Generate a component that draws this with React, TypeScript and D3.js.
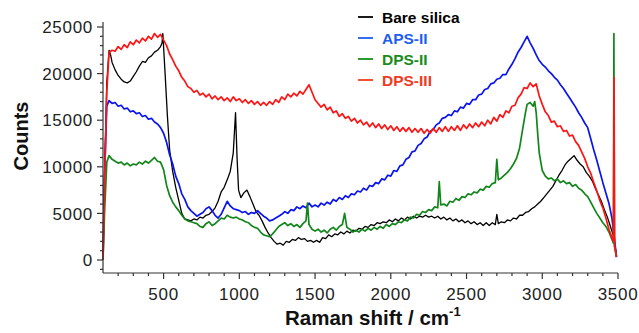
import * as d3 from "d3";

const W = 639;
const H = 333;

// Raman shift (cm-1), counts
const bareSilica: [number, number][] = [
  [100, 0], [110, 9000], [125, 19000], [140, 22500], [150, 22000], [160, 21200], [180, 20400],
  [200, 19800], [220, 19400], [240, 19100], [260, 19000], [280, 19200], [300, 19700], [320, 20200],
  [340, 20800], [360, 21300], [380, 21200], [400, 21700], [420, 21900], [440, 22300], [460, 22500],
  [480, 22900], [490, 23300], [495, 24300], [510, 20000], [525, 15500], [540, 11800], [560, 9500],
  [580, 7800], [600, 6400], [620, 5000], [640, 4400], [660, 4300], [680, 4200], [700, 4400],
  [720, 4300], [740, 4600], [760, 4500], [780, 4800], [800, 4900], [820, 5200], [840, 5600],
  [860, 6300], [880, 7300], [900, 7800], [920, 8600], [940, 9500], [960, 11500], [975, 15800],
  [985, 11000], [995, 7500], [1010, 6700], [1030, 7200], [1050, 7500], [1070, 6800], [1090, 6000],
  [1110, 5200], [1130, 4800], [1150, 4200], [1170, 3500], [1190, 2900], [1210, 2400], [1230, 2000],
  [1250, 1700], [1270, 1800], [1290, 1600], [1310, 2000], [1330, 1900], [1350, 2200], [1370, 2100],
  [1390, 2400], [1410, 2200], [1430, 2300], [1450, 2000], [1470, 2100], [1490, 1900], [1510, 2100],
  [1530, 1900], [1550, 2400], [1570, 2300], [1590, 2700], [1610, 2500], [1630, 2800], [1650, 2700],
  [1670, 3000], [1690, 2800], [1710, 3100], [1730, 2900], [1750, 3200], [1770, 3100], [1790, 3400],
  [1810, 3300], [1830, 3600], [1850, 3500], [1870, 3800], [1890, 3700], [1910, 4000], [1930, 3900],
  [1950, 4100], [1970, 4000], [1990, 4300], [2010, 4100], [2030, 4400], [2050, 4200], [2070, 4500],
  [2090, 4300], [2110, 4600], [2130, 4400], [2150, 4700], [2170, 4500], [2190, 4700], [2210, 4600],
  [2230, 4800], [2250, 4600], [2270, 4700], [2290, 4500], [2310, 4700], [2330, 4400], [2350, 4600],
  [2370, 4300], [2390, 4500], [2410, 4200], [2430, 4400], [2450, 4100], [2470, 4300], [2490, 4000],
  [2510, 4200], [2530, 3900], [2550, 4100], [2570, 3800], [2590, 4000], [2610, 3700], [2630, 4000],
  [2650, 3700], [2670, 4000], [2690, 3800], [2700, 4900], [2710, 3900], [2730, 4100], [2750, 4000],
  [2770, 4300], [2790, 4200], [2810, 4500], [2830, 4400], [2850, 4800], [2870, 4800], [2890, 5100],
  [2910, 5200], [2930, 5500], [2950, 5700], [2970, 6000], [2990, 6300], [3010, 6700], [3030, 7100],
  [3050, 7500], [3070, 7900], [3090, 8500], [3110, 9100], [3130, 9600], [3150, 10200], [3170, 10600],
  [3190, 10900], [3210, 11200], [3230, 10700], [3250, 10300], [3270, 10000], [3290, 9400],
  [3310, 9000], [3330, 8500], [3350, 7700], [3370, 7000], [3390, 6300], [3410, 5400], [3430, 4600],
  [3450, 3600], [3470, 2600], [3490, 500],
];

const apsII: [number, number][] = [
  [100, 0], [110, 9000], [125, 16500], [140, 17100], [160, 16800], [180, 16900], [200, 16500],
  [220, 16600], [240, 16200], [260, 16300], [280, 15900], [300, 16000], [320, 15700], [340, 15800],
  [360, 15400], [380, 15500], [400, 15100], [420, 15200], [440, 14800], [460, 14600], [480, 14200],
  [500, 13600], [520, 12600], [540, 11300], [560, 10300], [580, 9000], [600, 8200], [620, 7100],
  [640, 6500], [660, 5700], [680, 5300], [700, 5000], [720, 4700], [740, 4900], [760, 5100],
  [780, 5500], [800, 5700], [820, 5300], [840, 4800], [860, 4500], [880, 4900], [900, 5600],
  [920, 6300], [940, 5800], [960, 5500], [980, 5400], [1000, 5300], [1020, 5100], [1040, 5200],
  [1060, 4900], [1080, 5100], [1100, 5000], [1120, 5300], [1140, 5000], [1160, 4700], [1180, 4500],
  [1200, 4200], [1220, 4300], [1240, 4500], [1260, 4700], [1280, 4900], [1300, 5200], [1320, 5000],
  [1340, 5400], [1360, 5300], [1380, 5700], [1400, 5500], [1420, 5800], [1440, 5600], [1460, 6100],
  [1480, 5700], [1500, 5900], [1520, 5700], [1540, 6100], [1560, 5900], [1580, 6200], [1600, 6000],
  [1620, 6500], [1640, 6300], [1660, 6700], [1680, 6500], [1700, 6900], [1720, 6700], [1740, 7100],
  [1760, 7000], [1780, 7400], [1800, 7300], [1820, 7700], [1840, 7500], [1860, 8000], [1880, 7900],
  [1900, 8300], [1920, 8200], [1940, 8700], [1960, 8600], [1980, 9100], [2000, 9000], [2020, 9600],
  [2040, 9500], [2060, 10100], [2080, 10200], [2100, 10800], [2120, 11000], [2140, 11600],
  [2160, 11700], [2180, 12300], [2200, 12500], [2220, 13000], [2240, 13200], [2260, 13800],
  [2280, 14000], [2300, 14500], [2320, 14700], [2340, 15200], [2360, 15300], [2380, 15600],
  [2400, 15500], [2420, 16000], [2440, 15900], [2460, 16400], [2480, 16300], [2500, 16800],
  [2520, 16700], [2540, 17200], [2560, 17200], [2580, 17700], [2600, 17800], [2620, 18300],
  [2640, 18400], [2660, 18900], [2680, 19000], [2700, 19400], [2720, 19500], [2740, 19900],
  [2760, 19900], [2780, 20500], [2800, 21000], [2820, 21600], [2840, 22300], [2860, 22800],
  [2880, 23400], [2900, 24000], [2920, 23300], [2940, 22700], [2960, 22000], [2980, 21400],
  [3000, 21000], [3020, 20700], [3040, 20300], [3060, 20000], [3080, 19600], [3100, 19300],
  [3120, 18800], [3140, 18400], [3160, 17900], [3180, 17400], [3200, 16900], [3220, 16400],
  [3240, 15800], [3260, 15300], [3280, 14700], [3300, 14200], [3320, 13000], [3340, 11800],
  [3360, 10700], [3380, 9500], [3400, 8300], [3420, 7200], [3440, 6100], [3460, 4500], [3475, 2500],
  [3490, 300],
];

const dpsII: [number, number][] = [
  [100, 0], [110, 5000], [125, 10500], [140, 11200], [160, 10800], [180, 10600], [200, 10400],
  [220, 10500], [240, 10200], [260, 10400], [280, 10100], [300, 10300], [320, 10200], [340, 10500],
  [360, 10300], [380, 10600], [400, 10400], [420, 10700], [440, 11000], [460, 10600], [480, 10500],
  [500, 9700], [520, 8000], [540, 6900], [560, 6200], [580, 5700], [600, 5300], [620, 4800],
  [640, 4400], [660, 4200], [680, 4100], [700, 4000], [720, 3900], [740, 3600], [760, 3500],
  [780, 3900], [800, 4100], [820, 3700], [840, 3900], [860, 4200], [880, 4500], [900, 4400],
  [920, 4800], [940, 4600], [960, 4500], [980, 4600], [1000, 4400], [1020, 4300], [1040, 4100],
  [1060, 4000], [1080, 3700], [1100, 3500], [1120, 3400], [1140, 3000], [1160, 2700], [1180, 2600],
  [1200, 2500], [1220, 2800], [1240, 3200], [1260, 3600], [1280, 3800], [1300, 4000], [1320, 3700],
  [1340, 3900], [1360, 3600], [1380, 3800], [1400, 3500], [1420, 3900], [1440, 4200], [1450, 6100],
  [1460, 3800], [1480, 3300], [1500, 3100], [1520, 3300], [1540, 3000], [1560, 3200], [1580, 2900],
  [1600, 3300], [1620, 3500], [1640, 3200], [1660, 3600], [1680, 3800], [1695, 5000], [1710, 3500],
  [1730, 3300], [1750, 3000], [1770, 3200], [1790, 3000], [1810, 3300], [1830, 3100], [1850, 3400],
  [1870, 3200], [1890, 3500], [1910, 3300], [1930, 3600], [1950, 3400], [1970, 3800], [1990, 3600],
  [2010, 3900], [2030, 3800], [2050, 4100], [2070, 4000], [2090, 4300], [2110, 4200], [2130, 4600],
  [2150, 4500], [2170, 4900], [2190, 4800], [2210, 5200], [2230, 5100], [2250, 5400], [2270, 5300],
  [2290, 5700], [2310, 5600], [2320, 8400], [2330, 5900], [2350, 6000], [2370, 5800], [2390, 6300],
  [2410, 6200], [2430, 6600], [2450, 6400], [2470, 6800], [2490, 6700], [2510, 7100], [2530, 7000],
  [2550, 7300], [2570, 7200], [2590, 7600], [2610, 7500], [2630, 7900], [2650, 7800], [2670, 8200],
  [2690, 8300], [2700, 10800], [2710, 8600], [2730, 8800], [2750, 9100], [2770, 9400], [2790, 9800],
  [2810, 10300], [2830, 10900], [2850, 12000], [2870, 14000], [2890, 15900], [2900, 16700],
  [2920, 16900], [2940, 16500], [2950, 17000], [2960, 15800], [2970, 13500], [2980, 11500],
  [3000, 9600], [3020, 9000], [3040, 8700], [3060, 8800], [3080, 8500], [3100, 8700], [3120, 8300],
  [3140, 8500], [3160, 8200], [3180, 8300], [3200, 7900], [3220, 8100], [3240, 7700], [3260, 7500],
  [3280, 7100], [3300, 6800], [3320, 6200], [3340, 5600], [3360, 5000], [3380, 4500], [3400, 4000],
  [3420, 3600], [3440, 3000], [3460, 2200], [3470, 1800], [3473, 24300], [3476, 1500], [3490, 400],
];

const dpsIII: [number, number][] = [
  [100, 0], [110, 8000], [125, 18000], [140, 22300], [160, 22500], [180, 22400], [200, 22900],
  [220, 22600], [240, 23100], [260, 22800], [280, 23400], [300, 23100], [320, 23600], [340, 23300],
  [360, 23800], [380, 23500], [400, 24000], [420, 23700], [440, 24300], [460, 23900], [480, 24200],
  [500, 23600], [520, 23000], [540, 22100], [560, 21500], [580, 20800], [600, 20300], [620, 19600],
  [640, 19200], [660, 18600], [680, 18400], [700, 18000], [720, 18200], [740, 17700], [760, 17900],
  [780, 17500], [800, 17800], [820, 17300], [840, 17600], [860, 17200], [880, 17500], [900, 17100],
  [920, 17400], [940, 17000], [960, 17500], [980, 17100], [1000, 17300], [1020, 16900],
  [1040, 17200], [1060, 16800], [1080, 17100], [1100, 16700], [1120, 17000], [1140, 16600],
  [1160, 16900], [1180, 16600], [1200, 17000], [1220, 16700], [1240, 17200], [1260, 16900],
  [1280, 17500], [1300, 17200], [1320, 17800], [1340, 17500], [1360, 17900], [1380, 17600],
  [1400, 18100], [1420, 17800], [1440, 18300], [1460, 18800], [1480, 18000], [1500, 17200],
  [1520, 16800], [1540, 16400], [1560, 16700], [1580, 16100], [1600, 16400], [1620, 15800],
  [1640, 16000], [1660, 15400], [1680, 15700], [1700, 15200], [1720, 15400], [1740, 14900],
  [1760, 15200], [1780, 14700], [1800, 15000], [1820, 14500], [1840, 14800], [1860, 14300],
  [1880, 14700], [1900, 14200], [1920, 14600], [1940, 14100], [1960, 14500], [1980, 14000],
  [2000, 14400], [2020, 13900], [2040, 14300], [2060, 13800], [2080, 14200], [2100, 13800],
  [2120, 14200], [2140, 13700], [2160, 14100], [2180, 13700], [2200, 14100], [2220, 13600],
  [2240, 14000], [2260, 13600], [2280, 14100], [2300, 13700], [2320, 14200], [2340, 13800],
  [2360, 14300], [2380, 13800], [2400, 14300], [2420, 13900], [2440, 14400], [2460, 13900],
  [2480, 14500], [2500, 14100], [2520, 14600], [2540, 14200], [2560, 14700], [2580, 14300],
  [2600, 14800], [2620, 14400], [2640, 15000], [2660, 14600], [2680, 15300], [2700, 14900],
  [2720, 15600], [2740, 15300], [2760, 16000], [2780, 15800], [2800, 16500], [2820, 16600],
  [2840, 17400], [2860, 17800], [2880, 18500], [2900, 18400], [2920, 19000], [2940, 18600],
  [2960, 18900], [2980, 17600], [3000, 16700], [3020, 15900], [3040, 15500], [3060, 14800],
  [3080, 14900], [3100, 14300], [3120, 14400], [3140, 13800], [3160, 13900], [3180, 13300],
  [3200, 13400], [3220, 12700], [3240, 12300], [3260, 11600], [3280, 10900], [3300, 10000],
  [3320, 9300], [3340, 8300], [3360, 7400], [3380, 6400], [3400, 5600], [3420, 4500], [3440, 3300],
  [3460, 2400], [3470, 2000], [3474, 19600], [3478, 1500], [3490, 300],
];

const seriesNames = ["Bare silica", "APS-II", "DPS-II", "DPS-III"];
const seriesData = [bareSilica, apsII, dpsII, dpsIII];
const lineColors = ["#000000", "#0a14f0", "#12861a", "#ff1414"];
const legendColors = ["#000000", "#1f5ef0", "#1a8c1a", "#f03a1e"];

const yMajorTicks = [0, 5000, 10000, 15000, 20000, 25000];
const xMajorTicks = [500, 1000, 1500, 2000, 2500, 3000, 3500];

export default function App() {
  const x = d3.scaleLinear().domain([100, 3500]).range([103, 618]);
  const y = d3.scaleLinear().domain([0, 25000]).range([260, 27]);

  const axisY = 273;
  const axisTop = 22;

  const line = d3
    .line<[number, number]>()
    .x((d) => x(d[0]))
    .y((d) => y(d[1]));

  const yMinor = d3.range(-1000, 25001, 1000).filter((v) => v % 5000 !== 0);
  const xMinor = d3.range(200, 3500, 100).filter((v) => v % 500 !== 0);

  const font = "'Liberation Sans', Arial, sans-serif";

  return (
    <svg
      width={W}
      height={H}
      viewBox={`0 0 ${W} ${H}`}
      style={{ position: "absolute", left: 0, top: 0, background: "#fff" }}
      fontFamily={font}
    >
      {/* series */}
      <g fill="none" strokeLinejoin="round">
        {seriesData.map((s, i) => (
          <path
            key={seriesNames[i]}
            d={line(s) ?? ""}
            stroke={lineColors[i]}
            strokeWidth={i === 0 ? 1.3 : 1.7}
          />
        ))}
      </g>

      {/* axes */}
      <g stroke="#333" strokeWidth={1.2}>
        <line x1={x(100)} x2={x(100)} y1={axisTop} y2={axisY} />
        <line x1={x(100)} x2={x(3500)} y1={axisY} y2={axisY} />
        {yMajorTicks.map((v) => (
          <line key={`ym${v}`} x1={x(100) - 6} x2={x(100)} y1={y(v)} y2={y(v)} />
        ))}
        {yMinor.map((v) => (
          <line key={`yn${v}`} x1={x(100) - 3} x2={x(100)} y1={y(v)} y2={y(v)} />
        ))}
        {xMajorTicks.map((v) => (
          <line key={`xm${v}`} x1={x(v)} x2={x(v)} y1={axisY} y2={axisY + 6} />
        ))}
        {xMinor.map((v) => (
          <line key={`xn${v}`} x1={x(v)} x2={x(v)} y1={axisY} y2={axisY + 3} />
        ))}
      </g>

      {/* tick labels */}
      <g fontSize={17} fill="#222" letterSpacing={0.7}>
        {yMajorTicks.map((v) => (
          <text key={`yl${v}`} x={x(100) - 10} y={y(v)} dy="0.36em" textAnchor="end">
            {v}
          </text>
        ))}
        {xMajorTicks.map((v) => (
          <text key={`xl${v}`} x={x(v)} y={300} textAnchor="middle">
            {v}
          </text>
        ))}
      </g>

      {/* axis titles */}
      <text
        transform={`translate(28, 136) rotate(-90)`}
        textAnchor="middle"
        fontSize={20}
        fontWeight="bold"
        fill="#111"
      >
        Counts
      </text>
      <text x={285} y={325} fontSize={20.5} fontWeight="bold" fill="#111">
        Raman shift / cm
        <tspan fontSize={13} dy={-9}>
          -1
        </tspan>
      </text>

      {/* legend */}
      <g>
        {seriesNames.map((name, i) => (
          <g key={name} transform={`translate(358, ${17 + i * 21})`}>
            <line x1={0} x2={15} y1={0} y2={0} stroke={legendColors[i]} strokeWidth={1.8} />
            <text x={24} y={0} dy="0.36em" fontSize={15.5} fontWeight="bold" fill={legendColors[i]}>
              {name}
            </text>
          </g>
        ))}
      </g>
    </svg>
  );
}
